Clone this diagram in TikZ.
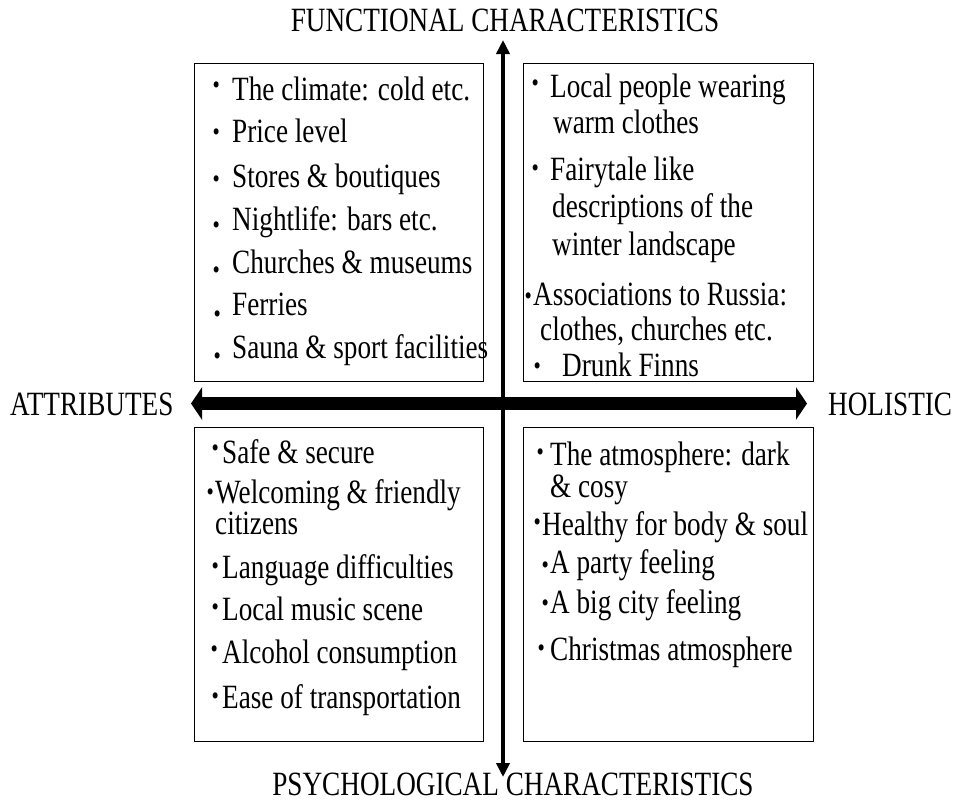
\documentclass[tikz,border=0pt]{standalone}
\usepackage{fontspec}
\setmainfont[FakeStretch=0.8]{Liberation Serif}
\usetikzlibrary{arrows.meta}
\newcommand{\bu}[2]{\llap{\raisebox{\dimexpr#1pt-8.5pt\relax}{\fontsize{26}{26}\selectfont •}\hspace{\dimexpr#2pt-3.6pt\relax}}}
\begin{document}
\begin{tikzpicture}[x=1pt,y=-1pt,
  box/.style={draw, line width=1.2pt, inner sep=0pt, anchor=north west},
  item/.style={anchor=base west, inner sep=0pt, font=\fontsize{34}{40}\selectfont},
  lab/.style={anchor=base, inner sep=0pt, font=\fontsize{34}{40}\selectfont}]
\useasboundingbox (0,0) rectangle (955,801);
% boxes
\node[box, minimum width=289pt, minimum height=318pt] (tl) at (194,63) {};
\node[box, minimum width=290pt, minimum height=318pt] (tr) at (523,63) {};
\node[box, minimum width=289pt, minimum height=314pt] (bl) at (194,427) {};
\node[box, minimum width=290pt, minimum height=314pt] (br) at (523,427) {};
% axes
\coordinate (vt) at (503,40);
\coordinate (vb) at (503,777);
\coordinate (hl) at (191,403.5);
\coordinate (hr) at (807,403.5);
\draw[line width=13pt, {Triangle[width=32pt,length=11pt]}-{Triangle[width=32pt,length=11pt]}] (hl) -- (hr);
\draw[line width=4.5pt, {Triangle[width=13pt,length=14pt]}-{Triangle[width=13pt,length=14pt]}] (vt) -- (vb);
% axis labels
\node[lab] (ft) at (505,31) {FUNCTIONAL CHARACTERISTICS};
\node[lab] (pc) at (513,795) {PSYCHOLOGICAL CHARACTERISTICS};
\node[lab, anchor=base west] (at) at (10,415) {ATTRIBUTES};
\node[lab, anchor=base west] (ho) at (828,415) {HOLISTIC};
% top left
\node[item] (tl1) at (232,100) {\bu{15}{16}The climate: cold etc.};
\node[item] (tl2) at (232,142) {\bu{10}{16}Price level};
\node[item] (tl3) at (232,187) {\bu{8}{16}Stores \& boutiques};
\node[item] (tl4) at (232,230) {\bu{5}{16}Nightlife: bars etc.};
\node[item] (tl5) at (232,273) {\bu{3}{16}Churches \& museums};
\node[item] (tl6) at (232,315) {\bu{1}{15}Ferries};
\node[item] (tl7) at (232,358) {\bu{2}{15}Sauna \& sport facilities};
% top right
\node[item] (tr1) at (550,97) {\bu{14}{15}Local people wearing};
\node[item] (tr2) at (553,133) {warm clothes};
\node[item] (tr3) at (550,180) {\bu{12}{15}Fairytale like};
\node[item] (tr4) at (552,217) {descriptions of the};
\node[item] (tr5) at (552,255) {winter landscape};
\node[item] (tr6) at (533,305) {\bu{9}{5}Associations to Russia:};
\node[item] (tr7) at (540,340) {clothes, churches etc.};
\node[item] (tr8) at (562,376) {\bu{10}{25}Drunk Finns};
% bottom left
\node[item] (bl1) at (222,463) {\bu{15}{7}Safe \& secure};
\node[item] (bl2) at (215,503) {\bu{11}{5}Welcoming \& friendly};
\node[item] (bl3) at (215,534) {citizens};
\node[item] (bl4) at (222,578) {\bu{12}{7}Language difficulties};
\node[item] (bl5) at (222,620) {\bu{13}{7}Local music scene};
\node[item] (bl6) at (222,663) {\bu{14}{8}Alcohol consumption};
\node[item] (bl7) at (222,708) {\bu{12}{7}Ease of transportation};
% bottom right
\node[item] (br1) at (550,465) {\bu{13}{10}The atmosphere: dark};
\node[item] (br2) at (550,497) {\& cosy};
\node[item] (br3) at (542,535) {\bu{13}{5}Healthy for body \& soul};
\node[item] (br4) at (550,573) {\bu{8}{5}A party feeling};
\node[item] (br5) at (550,613) {\bu{10}{5}A big city feeling};
\node[item] (br6) at (550,660) {\bu{12}{9}Christmas atmosphere};
\end{tikzpicture}
\end{document}
